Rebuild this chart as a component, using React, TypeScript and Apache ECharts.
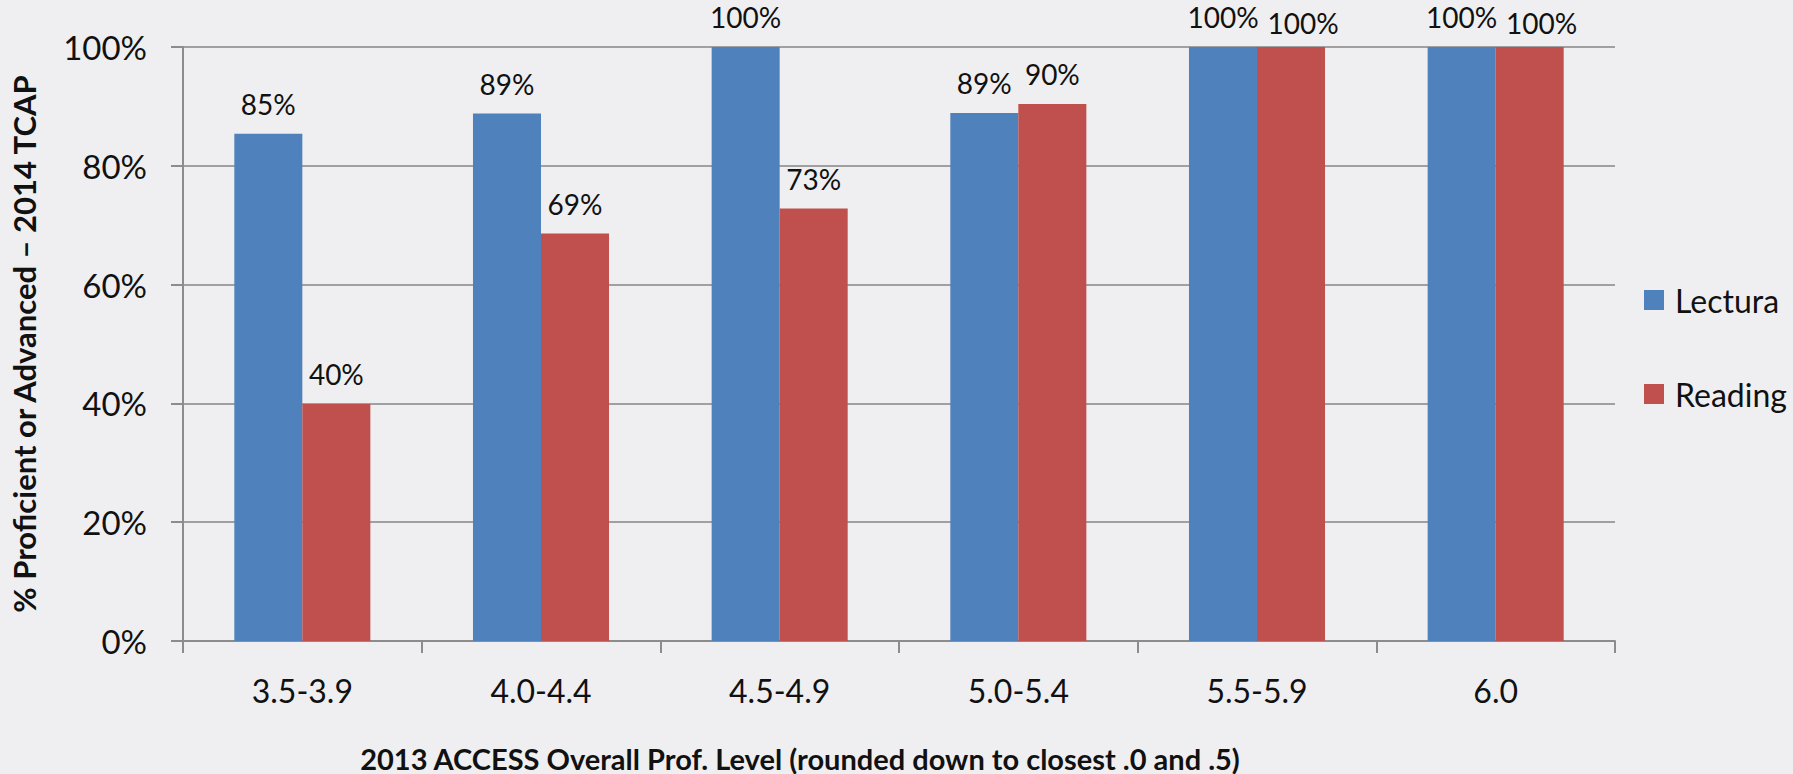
import React, { useEffect, useRef } from "react";
import * as echarts from "echarts";

const categories = ["3.5-3.9", "4.0-4.4", "4.5-4.9", "5.0-5.4", "5.5-5.9", "6.0"];
const seriesNames = ["Lectura", "Reading"];
const lecturaValues = [85.4, 88.8, 100, 88.9, 100, 100];
const readingValues = [39.9, 68.6, 72.8, 90.4, 100, 100];
const yMin = 0;
const yMax = 100;
const yInterval = 20;
const yAxisTitle = "% Proficient or Advanced \u2013 2014 TCAP";
const xAxisTitle = "2013 ACCESS Overall Prof. Level (rounded down to closest .0 and .5)";

const BASE_FONT = "Lato, 'Open Sans', sans-serif";
const BOLD_FONT = "Lato, 'Open Sans', sans-serif";
const BLUE = "#4F81BD";
const RED = "#C0504D";

export default function App() {
  const ref = useRef<HTMLDivElement>(null);

  useEffect(() => {
    if (!ref.current) return;
    const chart = echarts.init(ref.current, undefined, { renderer: "svg" });

    const labelStyle = {
      show: true,
      position: "top" as const,
      distance: 16,
      fontFamily: BASE_FONT,
      fontSize: 28,
      color: "#111",
      formatter: (p: any) => `${Math.round(p.value)}%`,
    };

    chart.setOption({
      animation: false,
      backgroundColor: "#efeff1",
      grid: { left: 163, right: 178, top: 47, bottom: 133, containLabel: false },
      legend: {
        orient: "vertical",
        left: 1639,
        top: 279,
        itemWidth: 20,
        itemHeight: 20,
        itemGap: 62,
        icon: "rect",
        data: seriesNames,
        textStyle: {
          fontFamily: BASE_FONT,
          fontSize: 32,
          lineHeight: 32,
          color: "#111",
          padding: [0, 0, 0, 6],
        },
      },
      xAxis: {
        type: "category",
        data: categories,
        axisLine: { show: true, lineStyle: { color: "#8c8c8c", width: 2 } },
        axisTick: { show: true, length: 12, lineStyle: { color: "#8c8c8c", width: 2 } },
        axisLabel: {
          fontFamily: BASE_FONT,
          fontSize: 32,
          lineHeight: 32,
          margin: 33,
          color: "#111",
        },
      },
      yAxis: {
        type: "value",
        min: yMin,
        max: yMax,
        interval: yInterval,
        name: yAxisTitle,
        nameLocation: "middle",
        nameRotate: 90,
        nameGap: 144,
        nameTextStyle: {
          fontFamily: BOLD_FONT,
          fontWeight: "bold",
          fontSize: 31,
          color: "#111",
        },
        axisLine: { show: true, lineStyle: { color: "#8c8c8c", width: 2 } },
        axisTick: { show: true, length: 12, lineStyle: { color: "#8c8c8c", width: 2 } },
        splitLine: { show: true, lineStyle: { color: "#a0a0a0", width: 2 } },
        axisLabel: {
          fontFamily: BASE_FONT,
          fontSize: 33,
          margin: 36,
          color: "#111",
          formatter: "{value}%",
        },
      },
      graphic: [
        {
          type: "text",
          x: 800,
          y: 758,
          style: {
            text: xAxisTitle,
            fontFamily: BOLD_FONT,
            fontWeight: "bold",
            fontSize: 29,
            fill: "#111",
            align: "center",
            verticalAlign: "middle",
          },
        },
      ],
      series: [
        {
          name: seriesNames[0],
          type: "bar",
          data: lecturaValues,
          barGap: "0%",
          barCategoryGap: "43%",
          itemStyle: { color: BLUE },
          label: labelStyle,
        },
        {
          name: seriesNames[1],
          type: "bar",
          data: readingValues.map((v) =>
            v >= 100 ? { value: v, label: { offset: [12, 6] } } : v
          ),
          barGap: "0%",
          barCategoryGap: "43%",
          itemStyle: { color: RED },
          label: labelStyle,
        },
      ],
    });

    return () => chart.dispose();
  }, []);

  return (
    <div
      ref={ref}
      style={{ position: "fixed", left: 0, top: 0, width: 1793, height: 774 }}
    />
  );
}
